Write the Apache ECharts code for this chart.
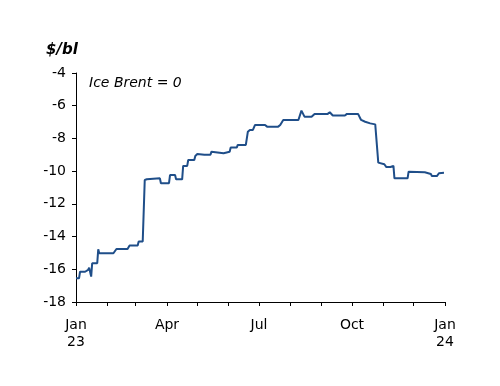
<!DOCTYPE html>
<html><head><meta charset="utf-8">
<script src="https://cdn.jsdelivr.net/npm/echarts@6/dist/echarts.min.js"></script>
<style>html,body{margin:0;padding:0;background:#fff}#c{width:500px;height:386px}</style>
</head><body><div id="c"></div>
<script>
var dates = ['2023-01-01','2023-01-04','2023-01-05','2023-01-10','2023-01-11','2023-01-13','2023-01-14','2023-01-15','2023-01-16','2023-01-17',
'2023-01-22','2023-01-23','2023-01-24','2023-02-07','2023-02-10','2023-02-21','2023-02-23','2023-03-03','2023-03-04','2023-03-08',
'2023-03-10','2023-03-12','2023-03-13','2023-03-25','2023-03-26','2023-04-03','2023-04-04','2023-04-09','2023-04-10','2023-04-16',
'2023-04-17','2023-04-21','2023-04-22','2023-04-28','2023-04-29','2023-05-01','2023-05-08','2023-05-14','2023-05-15','2023-05-16',
'2023-05-27','2023-05-28','2023-06-02','2023-06-03','2023-06-09','2023-06-10','2023-06-18','2023-06-20','2023-06-22','2023-06-25',
'2023-06-27','2023-07-07','2023-07-08','2023-07-09','2023-07-20','2023-07-22','2023-07-25','2023-08-09','2023-08-12','2023-08-15',
'2023-08-22','2023-08-23','2023-08-25','2023-09-07','2023-09-09','2023-09-12','2023-09-24','2023-09-26','2023-10-07','2023-10-10',
'2023-10-14','2023-10-19','2023-10-24','2023-10-27','2023-11-02','2023-11-04','2023-11-08','2023-11-09','2023-11-11','2023-11-12',
'2023-11-25','2023-11-26','2023-12-12','2023-12-13','2023-12-18','2023-12-19','2023-12-24','2023-12-26','2023-12-31'];
var spread = [-16.55,-16.55,-16.15,-16.15,-16.04,-16.04,-15.9,-15.9,-16.45,-15.63,
-15.63,-14.78,-15.02,-15.02,-14.76,-14.76,-14.55,-14.55,-14.3,-14.3,
-10.54,-10.5,-10.44,-10.44,-10.74,-10.74,-10.24,-10.24,-10.5,-10.5,
-9.68,-9.68,-9.32,-9.32,-9.07,-8.95,-9.0,-9.0,-8.81,-8.91,
-8.91,-8.81,-8.81,-8.56,-8.56,-8.4,-8.4,-7.59,-7.48,-7.48,
-7.18,-7.18,-7.08,-7.28,-7.28,-7.18,-6.87,-6.87,-6.3,-6.67,
-6.67,-6.6,-6.5,-6.5,-6.4,-6.6,-6.6,-6.5,-6.5,-6.87,
-6.98,-7.08,-7.14,-9.48,-9.58,-9.75,-9.75,-9.68,-9.68,-10.44,
-10.44,-10.03,-10.07,-10.17,-10.17,-10.3,-10.3,-10.13,-10.1];
var monthStarts = ['2023-01-01','2023-02-01','2023-03-01','2023-04-01','2023-05-01','2023-06-01','2023-07-01','2023-08-01','2023-09-01','2023-10-01','2023-11-01','2023-12-01','2024-01-01'];
var labelDates = ['2023-01-01','2023-04-01','2023-07-01','2023-10-01','2024-01-01'];
var xLabels = ['Jan\n23','Apr','Jul','Oct','Jan\n24'];
var yTicks = [-18,-16,-14,-12,-10,-8,-6,-4];

var DAY = 86400000, T0 = Date.UTC(2023,0,1);
function dayOf(s){var p=s.split('-');return Math.round((Date.UTC(+p[0],+p[1]-1,+p[2])-T0)/DAY);}
var data = dates.map(function(d,i){return [dayOf(d), spread[i]];});
var tickVals = monthStarts.map(dayOf);
var labVals = labelDates.map(dayOf);
var font = 'DejaVu Sans';
var chart = echarts.init(document.getElementById('c'), null, {renderer:'canvas'});
chart.setOption({
  animation:false,
  title:[
    {text:'$/bl', left:41, top:38, textStyle:{fontFamily:font,fontSize:15,fontWeight:'bold',fontStyle:'italic',color:'#000'}},
    {text:'Ice Brent = 0', left:84, top:71, textStyle:{fontFamily:font,fontSize:14,fontWeight:'normal',fontStyle:'italic',color:'#000'}}
  ],
  grid:{left:76,right:55,top:73,bottom:84,containLabel:false},
  xAxis:{type:'value',min:tickVals[0],max:tickVals[tickVals.length-1],
    axisLine:{lineStyle:{color:'#000',width:1}},
    axisTick:{show:true,length:4,customValues:tickVals,lineStyle:{color:'#000'}},
    axisLabel:{customValues:labVals,margin:15,lineHeight:17,fontFamily:font,fontSize:14,color:'#000',
      formatter:function(v){var i=labVals.indexOf(Math.round(v));return i>=0?xLabels[i]:'';}},
    splitLine:{show:false}},
  yAxis:{type:'value',min:yTicks[0],max:yTicks[yTicks.length-1],interval:2,
    axisLine:{show:true,lineStyle:{color:'#000',width:1}},
    axisTick:{show:true,length:4,lineStyle:{color:'#000'}},
    axisLabel:{margin:10,fontFamily:font,fontSize:14,color:'#000'},
    splitLine:{show:false}},
  series:[{type:'line',data:data,showSymbol:false,symbol:'none',lineStyle:{color:'#1F4E89',width:2},color:'#1F4E89'}]
});
</script></body></html>
